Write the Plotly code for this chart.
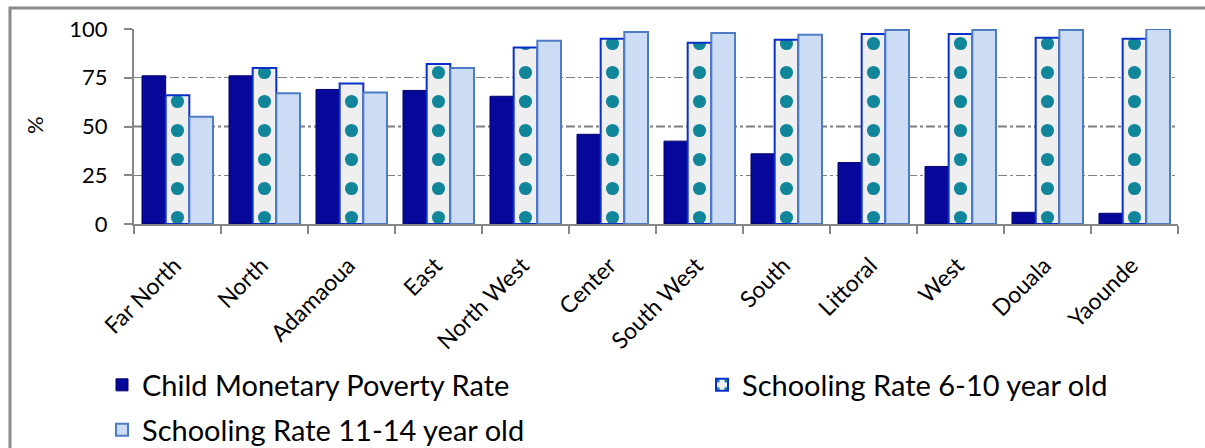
import plotly.graph_objects as go

# Regions of Cameroon and the two largest cities
regions = ["Far North", "North", "Adamaoua", "East", "North West", "Center",
           "South West", "South", "Littoral", "West", "Douala", "Yaounde"]

# Rates in percent
child_poverty = [76, 76, 69, 68.5, 65.5, 46, 42.5, 36, 31.5, 29.5, 6, 5.5]
schooling_6_10 = [66, 80, 72, 82, 90.5, 95, 93, 94.5, 97.5, 97.5, 95.5, 95]
schooling_11_14 = [55, 67, 67.5, 80, 94, 98.5, 98, 97, 99.5, 99.5, 99.5, 100]

y_ticks = [0, 25, 50, 75, 100]

FONT = "Lato"
W, H = 1205, 448
L, R, T, B = 134, 27, 29, 224
PW, PH = W - L - R, H - T - B


def px_x(x):
    return (x - L) / PW


def px_y(y):
    return (H - B - y) / PH


fig = go.Figure()

fig.add_trace(go.Bar(
    x=regions, y=child_poverty, name="Child Monetary Poverty Rate",
    marker=dict(color="#07079a", line=dict(color="#03036a", width=1)),
    legend="legend",
))
fig.add_trace(go.Bar(
    x=regions, y=schooling_6_10, name="Schooling Rate 6-10 year old",
    marker=dict(
        color="#eeeeee",
        line=dict(color="#0b30c8", width=2),
        pattern=dict(shape=".", fillmode="replace", bgcolor="#efefef",
                     fgcolor="#11869a", size=PW / 36, solidity=0.16),
    ),
    legend="legend2",
))
fig.add_trace(go.Bar(
    x=regions, y=schooling_11_14, name="Schooling Rate 11-14 year old",
    marker=dict(color="#cddcf5", line=dict(color="#4d7cc4", width=2)),
    legend="legend3",
))

legend_font = dict(family=FONT, size=29, color="#000000")
legend_common = dict(font=legend_font, bgcolor="rgba(0,0,0,0)",
                     xref="container", yref="container",
                     xanchor="left", yanchor="middle")

fig.update_layout(
    template="none",
    width=W, height=H,
    margin=dict(l=L, r=R, t=T, b=B, autoexpand=False),
    paper_bgcolor="#ffffff", plot_bgcolor="#ffffff",
    barmode="group", bargap=0.184, bargroupgap=0,
    font=dict(family=FONT, color="#000000"),
    showlegend=True,
    legend=dict(x=102 / W, y=1 - 385 / H, **legend_common),
    legend2=dict(x=702 / W, y=1 - 385 / H, **legend_common),
    legend3=dict(x=102 / W, y=1 - 430 / H, **legend_common),
    xaxis=dict(
        automargin=False,
        tickangle=-45, tickfont=dict(family=FONT, size=23),
        showline=True, linecolor="#878787", linewidth=2,
        ticks="outside", tickson="boundaries", ticklen=8, tickwidth=2,
        tickcolor="#878787", showgrid=False,
        ticklabelstandoff=17, ticklabelshift=-3,
    ),
    yaxis=dict(
        automargin=False,
        range=[0, 100], tickvals=y_ticks, ticktext=[str(v) for v in y_ticks],
        tickfont=dict(family=FONT, size=22),
        showline=True, linecolor="#878787", linewidth=2,
        ticks="outside", ticklen=8, tickwidth=2, tickcolor="#878787",
        ticklabelstandoff=12,
        showgrid=True, gridcolor="#808080", gridwidth=1, griddash="dashdot",
        zeroline=False,
    ),
    annotations=[
        dict(text="%", textangle=-90, xref="paper", yref="paper",
             x=px_x(34), y=px_y(125), xanchor="center", yanchor="middle",
             showarrow=False, font=dict(family=FONT, size=22, color="#000000")),
    ],
    shapes=[
        # heavier middle reference line
        dict(type="line", xref="paper", yref="y", x0=0, x1=1, y0=50, y1=50,
             line=dict(color="#7a7a7a", width=2, dash="dashdot"), layer="below"),
        # outer chart frame
        dict(type="rect", xref="paper", yref="paper",
             x0=px_x(10), x1=px_x(1240), y0=px_y(8), y1=px_y(480),
             line=dict(color="#8a8a8a", width=3), fillcolor="rgba(0,0,0,0)",
             layer="above"),
    ],
)

fig.write_html("out.html")
